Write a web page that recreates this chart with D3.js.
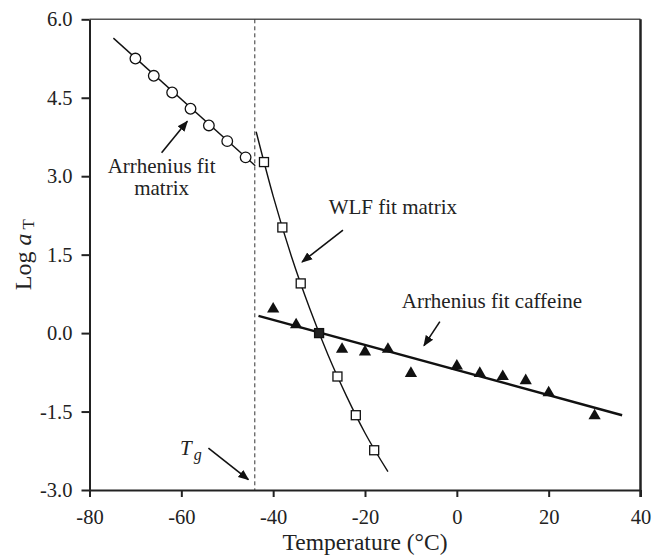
<!DOCTYPE html>
<html>
<head>
<meta charset="utf-8">
<script src="https://cdn.jsdelivr.net/npm/d3@7"></script>
<style>
  body { margin: 0; background: #fff; }
  text { font-family: "Liberation Serif", "Times New Roman", serif; fill: #222; }
</style>
</head>
<body>
<div id="chart"></div>
<script>
// Data
const xTicks = [-80, -60, -40, -20, 0, 20, 40]
const yTicks = [-3.0, -1.5, 0.0, 1.5, 3.0, 4.5, 6.0]

// Arrhenius matrix points (circles)
const matrixT = [-70, -66, -62, -58, -54, -50, -46]
const matrixLogA = [5.25, 4.92, 4.60, 4.29, 3.97, 3.67, 3.36]

// WLF matrix points (squares)
const wlfT = [-42, -38, -34, -26, -22, -18]
const wlfLogA = [3.27, 2.02, 0.95, -0.83, -1.57, -2.24]

// reference point (filled square)
const refT = [-30]
const refLogA = [0.0]

// caffeine points (triangles)
const caffT = [-40, -35, -25, -20, -15, -10, 0, 5, 10, 15, 20, 30]
const caffLogA = [0.46, 0.16, -0.31, -0.36, -0.31, -0.77, -0.63, -0.77, -0.83, -0.91, -1.14, -1.58]

// fitted lines
const arrFitT = [-74.8, -43.9]
const arrFitLogA = [5.64, 3.20]
const wlfFitT = [-43.7, -40, -36, -32, -28, -24, -20, -15]
const wlfFitLogA = [3.85, 2.62, 1.46, 0.46, -0.43, -1.21, -1.91, -2.65]
const caffFitT = [-43.2, 36]
const caffFitLogA = [0.33, -1.57]

const tg = -44

// Dimensions
let dimensions = {
  width: 653,
  height: 556,
  left: 89.5,
  right: 640.5,
  top: 19.3,
  bottom: 490
}

const svg = d3.select('#chart')
  .append('svg')
  .attr('width', dimensions.width)
  .attr('height', dimensions.height)

const defs = svg.append('defs')
defs.append('marker')
  .attr('id', 'head')
  .attr('viewBox', '0 0 10 10')
  .attr('refX', 9)
  .attr('refY', 5)
  .attr('markerWidth', 11)
  .attr('markerHeight', 11)
  .attr('markerUnits', 'userSpaceOnUse')
  .attr('orient', 'auto')
  .append('path')
  .attr('d', 'M0,1 L10,5 L0,9 Z')
  .attr('fill', '#111')

// Scales
const xScale = d3.scaleLinear()
  .domain([-80, 40])
  .range([dimensions.left, dimensions.right])

const yScale = d3.scaleLinear()
  .domain([-3, 6])
  .range([dimensions.bottom, dimensions.top])

const zip = (a, b) => a.map((v, i) => [v, b[i]])

// frame (top and right)
svg.append('line')
  .attr('x1', dimensions.left).attr('x2', dimensions.right)
  .attr('y1', dimensions.top).attr('y2', dimensions.top)
  .attr('stroke', '#555').attr('stroke-width', 1.5)
svg.append('line')
  .attr('x1', dimensions.right).attr('x2', dimensions.right)
  .attr('y1', dimensions.top).attr('y2', dimensions.bottom + 7)
  .attr('stroke', '#222').attr('stroke-width', 2.5)

// axes
const xAxis = d3.axisBottom(xScale)
  .tickValues(xTicks)
  .tickSize(7)
  .tickSizeOuter(0)
  .tickPadding(12)

const xAxisGroup = svg.append('g')
  .attr('transform', `translate(0,${dimensions.bottom})`)
  .call(xAxis)

const yAxis = d3.axisLeft(yScale)
  .tickValues(yTicks)
  .tickSize(8)
  .tickSizeOuter(0)
  .tickPadding(9)

const yAxisGroup = svg.append('g')
  .attr('transform', `translate(${dimensions.left},0)`)
  .call(yAxis)

;[xAxisGroup, yAxisGroup].forEach(g => {
  g.select('.domain').attr('stroke', '#222').attr('stroke-width', 2)
  g.selectAll('.tick line').attr('stroke', '#222').attr('stroke-width', 2)
  g.selectAll('.tick text')
    .style('font-family', '"Liberation Serif", serif')
    .style('font-size', '20.5px')
    .attr('fill', '#222')
})
xAxisGroup.selectAll('.tick text').text(d => String(d))
yAxisGroup.selectAll('.tick text').text(d => d.toFixed(1))

// axis titles
svg.append('text')
  .attr('x', (dimensions.left + dimensions.right) / 2)
  .attr('y', 550)
  .attr('text-anchor', 'middle')
  .style('font-size', '23.5px')
  .text('Temperature (°C)')

const yLabel = svg.append('text')
  .attr('transform', `translate(31,${(dimensions.top + dimensions.bottom) / 2}) rotate(-90)`)
  .attr('text-anchor', 'middle')
  .style('font-size', '24px')
yLabel.append('tspan').text('Log ')
yLabel.append('tspan').style('font-style', 'italic').text('a')
yLabel.append('tspan').attr('dy', 3).style('font-size', '17px').text(' T')

// Tg dashed line
svg.append('line')
  .attr('x1', xScale(tg)).attr('x2', xScale(tg))
  .attr('y1', dimensions.top).attr('y2', dimensions.bottom)
  .attr('stroke', '#333')
  .attr('stroke-width', 1)
  .attr('stroke-dasharray', '4,3')

// fit lines
const lineGenerator = d3.line()
  .x(d => xScale(d[0]))
  .y(d => yScale(d[1]))

svg.append('path')
  .datum(zip(arrFitT, arrFitLogA))
  .attr('d', lineGenerator)
  .attr('fill', 'none').attr('stroke', '#111').attr('stroke-width', 1.4)

svg.append('path')
  .datum(zip(wlfFitT, wlfFitLogA))
  .attr('d', lineGenerator.curve(d3.curveMonotoneX))
  .attr('fill', 'none').attr('stroke', '#111').attr('stroke-width', 1.4)

svg.append('path')
  .datum(zip(caffFitT, caffFitLogA))
  .attr('d', lineGenerator.curve(d3.curveLinear))
  .attr('fill', 'none').attr('stroke', '#111').attr('stroke-width', 2.5)

// markers
svg.selectAll('.circ')
  .data(zip(matrixT, matrixLogA))
  .join('circle')
  .attr('cx', d => xScale(d[0]))
  .attr('cy', d => yScale(d[1]))
  .attr('r', 5.3)
  .attr('fill', '#fff')
  .attr('stroke', '#111')
  .attr('stroke-width', 1.3)

const tri = d3.symbol().type(d3.symbolTriangle).size(65)
svg.selectAll('.tri')
  .data(zip(caffT, caffLogA))
  .join('path')
  .attr('d', tri)
  .attr('transform', d => `translate(${xScale(d[0])},${yScale(d[1])})`)
  .attr('fill', '#111')

const sq = 9
svg.selectAll('.sq')
  .data(zip(wlfT, wlfLogA))
  .join('rect')
  .attr('x', d => xScale(d[0]) - sq / 2)
  .attr('y', d => yScale(d[1]) - sq / 2)
  .attr('width', sq).attr('height', sq)
  .attr('fill', '#fff')
  .attr('stroke', '#111')
  .attr('stroke-width', 1.3)

svg.selectAll('.ref')
  .data(zip(refT, refLogA))
  .join('rect')
  .attr('x', d => xScale(d[0]) - sq / 2)
  .attr('y', d => yScale(d[1]) - sq / 2)
  .attr('width', sq).attr('height', sq)
  .attr('fill', '#222')
  .attr('stroke', '#111')
  .attr('stroke-width', 1.3)

// annotations: [tailT, tailLog, headT, headLog]
const arrows = [
  [-64.3, 3.45, -58.7, 4.05],
  [-24.8, 1.97, -33.7, 1.36],
  [-3.7, 0.22, -7.15, -0.24],
  [-54.1, -2.20, -45.4, -2.80]
]
svg.selectAll('.arrow')
  .data(arrows)
  .join('line')
  .attr('x1', d => xScale(d[0])).attr('y1', d => yScale(d[1]))
  .attr('x2', d => xScale(d[2])).attr('y2', d => yScale(d[3]))
  .attr('stroke', '#111').attr('stroke-width', 1.6)
  .attr('marker-end', 'url(#head)')

const labels = [
  { t: -64.3, v: 3.07, text: 'Arrhenius fit', anchor: 'middle' },
  { t: -64.3, v: 2.64, text: 'matrix', anchor: 'middle' },
  { t: -27.9, v: 2.27, text: 'WLF fit matrix', anchor: 'start' },
  { t: -12.0, v: 0.48, text: 'Arrhenius fit caffeine', anchor: 'start' }
]
svg.selectAll('.lab')
  .data(labels)
  .join('text')
  .attr('x', d => xScale(d.t))
  .attr('y', d => yScale(d.v))
  .attr('text-anchor', d => d.anchor)
  .style('font-size', '21px')
  .text(d => d.text)

const tgLabel = svg.append('text')
  .attr('x', xScale(-60.3))
  .attr('y', yScale(-2.33))
  .style('font-size', '21px')
tgLabel.append('tspan').style('font-style', 'italic').text('T')
tgLabel.append('tspan').attr('dx', 2).attr('dy', 5).style('font-style', 'italic').style('font-size', '16px').text('g')
</script>
</body>
</html>
